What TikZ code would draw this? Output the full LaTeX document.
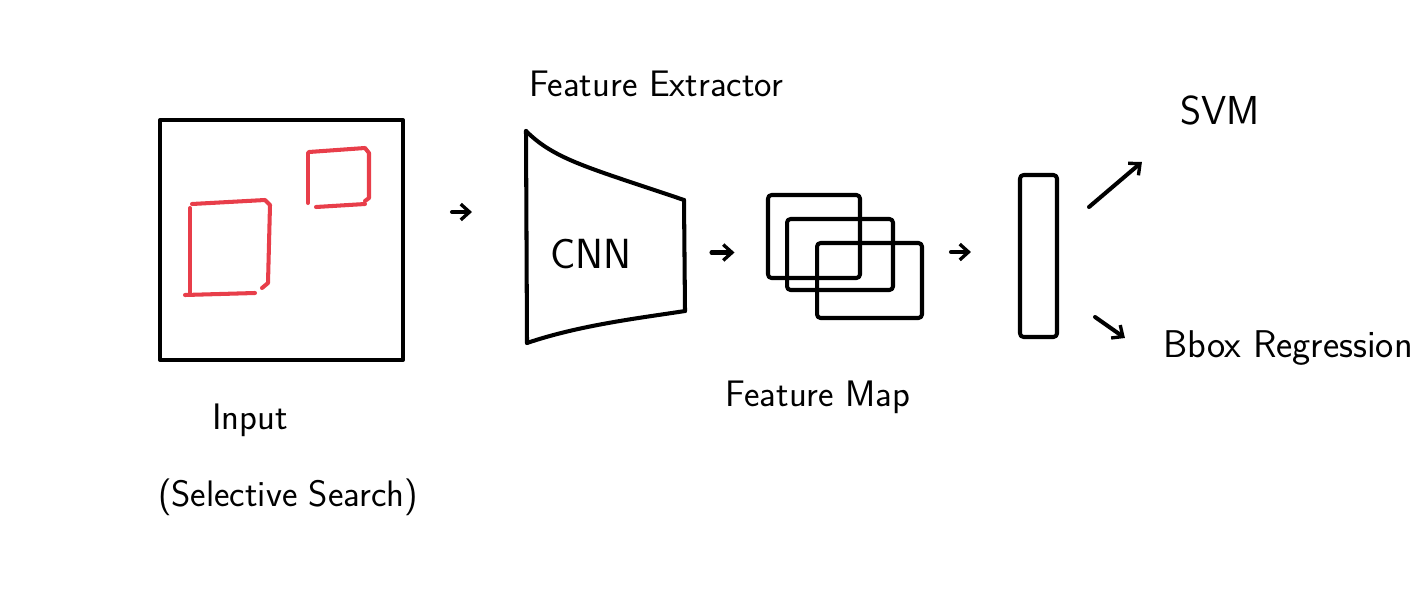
\documentclass[tikz,border=0pt]{standalone}
\usepackage{tikz}
\usetikzlibrary{arrows.meta,calc}

\begin{document}
\begin{tikzpicture}[x=0.02cm, y=-0.02cm,
		pen/.style={line width=2.3pt, line cap=round, line join=round},
		flow/.style={pen, -{Straight Barb[length=5pt, width=9pt, line width=1.9pt]}},
		hand/.style={font=\sffamily\fontsize{21}{25}\selectfont, anchor=base, inner sep=0pt},
		sheet/.style={pen, draw, rounded corners=2pt, inner sep=0pt}]
		% Defines colors to match the image
		\definecolor{regionred}{RGB}{232, 62, 74} % Red for the proposals
		
		% Fixes the size of the page (pixels of the reference)
		\useasboundingbox (0,0) rectangle (1423,605);
		
		% --- Input image ---
		\node[pen, draw, inner sep=0pt, minimum width=4.86cm, minimum height=4.8cm] (input) at (281.5,240) {};
		
		% Region proposals, drawn as open boxes
		\draw[pen, regionred] (192,204) -- (265,200) -- (270,205) -- (268,283) -- (262,288);
		\draw[pen, regionred] (190,208) -- (190,294);
		\draw[pen, regionred] (185,295) -- (255,293);
		\draw[pen, regionred] (309,152) -- (365,148) -- (369,153) -- (369,198) -- (365,201);
		\draw[pen, regionred] (308,153) -- (308,203);
		\draw[pen, regionred] (316,207) -- (365,204);
		
		\node[hand] (input label) at (250,429) {Input};
		\node[hand] (search label) at (288,506) {(Selective Search)};
		
		% --- Feature extractor ---
		\coordinate (cnnTL) at (526,131); % top left
		\coordinate (cnnBL) at (527,343); % bottom left
		\coordinate (cnnTR) at (684,200); % top right
		\coordinate (cnnBR) at (685,311); % bottom right
		\draw[pen] (cnnTL) -- (cnnBL);
		\draw[pen] (cnnTL) .. controls (555,160) and (590,168) .. (cnnTR);
		\draw[pen] (cnnBL) .. controls (580,325) and (640,318) .. (cnnBR);
		\draw[pen] (cnnTR) -- (cnnBR);
		\node[hand, font=\sffamily\fontsize{24}{28}\selectfont] (cnn) at (591,268) {CNN};
		\node[hand] (extractor) at (656,96) {Feature Extractor};
		
		% --- Feature maps ---
		\node[sheet, minimum width=1.84cm, minimum height=1.66cm] (fm1) at (814,236.5) {};
		\node[sheet, minimum width=2.12cm, minimum height=1.42cm] (fm2) at (840,254.5) {};
		\node[sheet, minimum width=2.10cm, minimum height=1.50cm] (fm3) at (869.5,280.5) {};
		\node[hand] (map label) at (818,406) {Feature Map};
		
		% --- Feature vector ---
		\node[sheet, minimum width=0.74cm, minimum height=3.24cm] (vec) at (1038.5,256) {};
		
		% --- Heads ---
		\node[hand, font=\sffamily\fontsize{23}{27}\selectfont] (svm) at (1220,124) {SVM};
		\node[hand, font=\sffamily\fontsize{22}{26}\selectfont] (bbox) at (1288,357) {Bbox Regression};
		
		% --- Arrows ---
		\draw[flow] ($(input.east)+(47,-28)$) -- ++(20,0);
		\draw[flow] ($(cnnTR)!0.5!(cnnBR)+(27,-3)$) -- ++(23,0);
		\draw[flow] ($(vec.west)+(-67,-4)$) -- ++(20,0);
		\draw[flow] ($(vec.east)+(30,-49)$) -- ($(svm.base west)+(-38,38)$);
		\draw[flow] ($(vec.east)+(36,61)$) -- ($(bbox.base west)+(-38,-19)$);
		
	\end{tikzpicture}
\end{document}
